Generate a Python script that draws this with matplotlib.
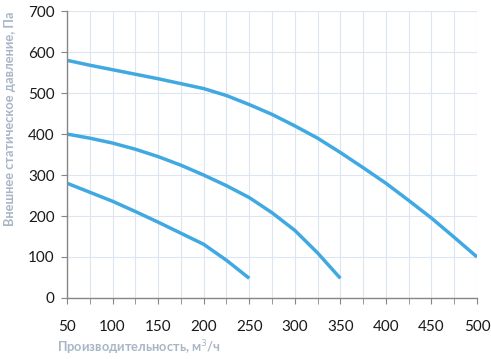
import matplotlib.pyplot as plt
from matplotlib.ticker import MultipleLocator

plt.rcParams['font.family'] = ['Lato', 'DejaVu Sans']

# flow, m3/h and pressure, Pa
flow_top = [50, 75, 100, 125, 150, 175, 200, 225, 250, 275, 300, 325, 350, 375, 400, 425, 450, 475, 500]
pres_top = [580, 568, 557, 546, 535, 523, 511, 494, 472, 448, 420, 390, 355, 318, 280, 238, 195, 148, 100]

flow_mid = [50, 75, 100, 125, 150, 175, 200, 225, 250, 275, 300, 325, 350]
pres_mid = [400, 390, 378, 363, 345, 324, 300, 274, 245, 208, 165, 110, 48]

flow_low = [50, 75, 100, 125, 150, 175, 200, 225, 250]
pres_low = [280, 258, 236, 211, 185, 158, 131, 92, 48]

line_color = "#41A9E1"
label_color = "#A9B6C6"

fig = plt.figure(figsize=(4.91, 3.59), dpi=100)
ax = fig.add_axes([0.1365, 0.170, 0.835, 0.799])

for fx, py in [(flow_top, pres_top), (flow_mid, pres_mid), (flow_low, pres_low)]:
    ax.plot(fx, py, color=line_color, linewidth=2.5, solid_capstyle="butt")

ax.set_xlim(50, 500)
ax.set_ylim(0, 700)
ax.xaxis.set_major_locator(MultipleLocator(50))
ax.xaxis.set_minor_locator(MultipleLocator(25))
ax.yaxis.set_major_locator(MultipleLocator(100))
ax.grid(True, which="both", axis="x", color="#DCE6F2", linewidth=0.8)
ax.grid(True, which="major", axis="y", color="#DCE6F2", linewidth=0.8)
ax.set_axisbelow(True)

for s in ["top", "right"]:
    ax.spines[s].set_visible(False)
for s in ["left", "bottom"]:
    ax.spines[s].set_color("#868686")
    ax.spines[s].set_linewidth(1.0)

ax.tick_params(axis="both", which="both", colors="#868686", labelcolor="#1a1a1a",
               labelsize=11, length=4)
ax.tick_params(axis="x", pad=12)
ax.tick_params(axis="y", pad=5)

ax.set_xlabel("Производительность, м$^3$/ч", color=label_color, fontsize=9.3,
              fontweight="bold", ha="left")
ax.set_ylabel("Внешнее статическое давление, Па", color=label_color, fontsize=9.3,
              fontweight="bold", ha="right", va="center")
ax.xaxis.set_label_coords(-0.024, -0.14)
ax.yaxis.set_label_coords(-0.14, 0.997)

fig.savefig("out.png", dpi=100)
